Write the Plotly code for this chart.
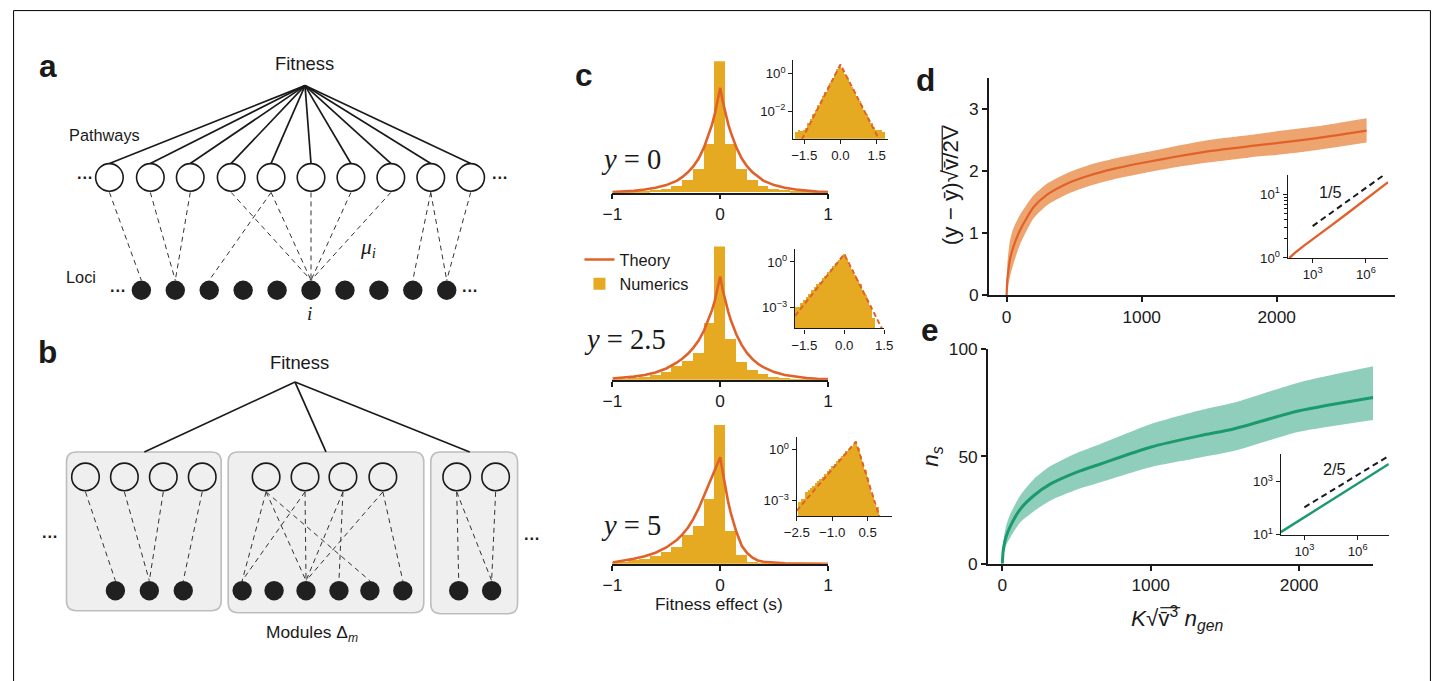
import plotly.graph_objects as go

# The page is shown with the browser's default 8px body margin and the photographed page
# is scaled slightly, so window positions (given below in reference pixels) are mapped
# back to figure positions with the measured offset/scale (AX/AY, KX/KY) and OFF.
OFF = 8
W, H = 1440, 681
AX, KX = 2.5, 0.9867
AY, KY = 2.5, 0.9723
FS = 1.02  # size compensation for that scaling
FONT = "Liberation Sans, Arial, sans-serif"
SERIF = "Liberation Serif, DejaVu Serif, serif"
INK = "#1a1a1a"
GOLD = "#e5aa22"
ORANGE = "#e0612a"
BAND_O = "#eda46e"
GREEN = "#1b9a6c"
BAND_G = "#8fcebb"

# ---------------- panel a : network (schematic positions) ----------------
a_pathway_x = [107, 148, 188, 229, 269, 309, 349, 389, 429, 469]
a_pathway_y = 178
a_loci_x = [139, 173, 207, 241, 275, 309, 343, 377, 411, 445]
a_loci_y = 291
a_fitness = (303, 86)
a_edges = [(0, 0), (1, 1), (2, 1), (3, 5), (4, 2), (4, 5), (5, 5), (6, 5), (7, 5), (8, 8), (8, 9), (9, 9)]

# ---------------- panel b : modular network ----------------
b_boxes = [(64, 453, 219, 612), (226, 453, 422, 614), (429, 453, 516, 615)]
b_open_x = [83, 122, 161, 200, 264, 303, 341, 381, 455, 494]
b_open_y = 478
b_fill_x = [113, 147, 181, 240, 272, 304, 337, 368, 401, 457, 490]
b_fill_y = 592
b_fitness = (293, 383)
b_module_top_x = [142, 324, 468]
b_edges = [(0, 0), (1, 1), (2, 1), (3, 2),
           (4, 3), (4, 5), (4, 7), (5, 3), (5, 5), (6, 5), (6, 6), (7, 5), (7, 8),
           (8, 9), (8, 10), (9, 10)]

# ---------------- panel c : histograms ----------------
hist_s = [-1.0, -0.9, -0.8, -0.7, -0.6, -0.5, -0.4, -0.3, -0.2, -0.1, 0.0,
          0.1, 0.2, 0.3, 0.4, 0.5, 0.6, 0.7, 0.8, 0.9, 1.0]
hist_y0 = [0.03, 0.04, 0.06, 0.1, 0.17, 0.28, 0.5, 0.93, 1.77, 3.72, 12,
           3.72, 1.77, 0.93, 0.5, 0.28, 0.17, 0.1, 0.06, 0.04, 0.03]
hist_y25 = [0.06, 0.1, 0.15, 0.25, 0.4, 0.6, 1.05, 1.42, 2.05, 4.3, 12,
            3.1, 1.35, 0.73, 0.43, 0.25, 0.15, 0.1, 0.06, 0.04, 0.03]
hist_y5 = [0.1, 0.15, 0.25, 0.37, 0.58, 0.87, 1.25, 2.12, 2.86, 4.86, 12,
           2.49, 0.67, 0.13, 0.05, 0.03, 0.02, 0.01, 0.01, 0.01, 0.0]

theory_s = [-1.0, -0.9, -0.8, -0.7, -0.6, -0.5, -0.4, -0.35, -0.3, -0.25, -0.2, -0.15, -0.1, -0.075,
            -0.05, -0.025, 0.0, 0.025, 0.05, 0.075, 0.1, 0.15, 0.2, 0.25, 0.3, 0.35, 0.4, 0.5,
            0.6, 0.7, 0.8, 0.9, 1.0]
theory_y0 = [0.05, 0.08, 0.14, 0.24, 0.38, 0.58, 0.92, 1.2, 1.55, 2.0, 2.6, 3.45, 4.55, 5.2, 6.0, 6.9,
             7.98, 6.9, 6.0, 5.2, 4.55, 3.45, 2.6, 2.0, 1.55, 1.2, 0.92, 0.58, 0.38, 0.24, 0.14, 0.08, 0.05]
theory_y25 = [0.1, 0.15, 0.24, 0.36, 0.55, 0.85, 1.3, 1.6, 1.95, 2.4, 2.95, 3.7, 4.65, 5.25, 5.95, 6.75,
              7.75, 6.7, 5.85, 5.1, 4.45, 3.4, 2.6, 2.0, 1.55, 1.2, 0.95, 0.58, 0.36, 0.22, 0.13, 0.08, 0.05]
theory_y5 = [0.1, 0.22, 0.37, 0.56, 0.83, 1.22, 1.8, 2.2, 2.7, 3.35, 4.15, 5.1, 6.05, 6.5, 7.0, 7.5,
             7.98, 6.8, 5.6, 4.6, 3.75, 2.4, 1.35, 0.8, 0.45, 0.25, 0.15, 0.07, 0.04, 0.02, 0.01, 0.01, 0.0]

# insets (log10 of density)
ins1_s = [round(-1.8 + 0.1 * k, 1) for k in range(37)]
ins1_log = [-3.1, -2.95, -3.05, -2.95, -2.85, -2.6, -2.4, -2.15, -1.9, -1.66, -1.42, -1.18, -0.94, -0.7,
            -0.46, -0.22, 0.02, 0.26, 0.5, 0.26, 0.02, -0.22, -0.46, -0.7, -0.94, -1.18, -1.42, -1.66,
            -1.9, -2.14, -2.38, -2.62, -2.8, -3.0, -2.95, -2.95, -3.1]
ins1_th_s = [-1.6, 0.0, 1.6]
ins1_th_log = [-3.5, 0.48, -3.5]

ins2_s = [round(-1.8 + 0.1 * k, 1) for k in range(30)]
ins2_log = [-3.0, -3.0, -2.7, -2.5, -2.3, -2.1, -1.9, -1.7, -1.5, -1.35, -1.1, -0.95, -0.7, -0.5, -0.3,
            -0.1, 0.1, 0.3, 0.5, 0.15, -0.2, -0.55, -0.85, -1.2, -1.5, -1.85, -2.2, -2.55, -2.9, -3.7]
ins2_th_s = [-1.85, 0.0, 1.5]
ins2_th_log = [-3.55, 0.51, -4.68]

ins3_s = [round(-2.4 + 0.1 * k, 1) for k in range(34)]
ins3_log = [-3.1, -2.9, -2.9, -2.5, -2.4, -2.3, -2.15, -2.0, -1.85, -1.75, -1.6, -1.45, -1.3, -1.15, -1.0,
            -0.85, -0.7, -0.55, -0.4, -0.25, -0.1, 0.0, 0.15, 0.3, 0.5, 0.1, -0.4, -0.8, -1.2, -1.7, -2.2,
            -2.7, -3.3, -3.4]
ins3_th_s = [-2.5, 0.0, 1.0]
ins3_th_log = [-3.6, 0.47, -3.98]

# ---------------- panel d ----------------
d_x = [0, 5, 10, 25, 50, 100, 200, 300, 450, 600, 800, 1000, 1250, 1500, 1800, 2000, 2300, 2666]
d_mid = [0, 0.25, 0.35, 0.58, 0.78, 1.05, 1.42, 1.62, 1.8, 1.92, 2.04, 2.13, 2.23, 2.32, 2.40, 2.45, 2.53, 2.65]
d_up = [0, 0.5, 0.62, 0.88, 1.08, 1.3, 1.61, 1.8, 1.97, 2.09, 2.2, 2.29, 2.4, 2.5, 2.58, 2.64, 2.72, 2.85]
d_lo = [0, 0.05, 0.12, 0.3, 0.5, 0.82, 1.24, 1.45, 1.63, 1.75, 1.87, 1.96, 2.06, 2.14, 2.22, 2.26, 2.34, 2.46]
din_x_log = [1.69, 2.0, 2.5, 3.0, 4.0, 5.0, 6.0, 7.25]
din_y_log = [0.0, 0.08, 0.19, 0.29, 0.5, 0.71, 0.92, 1.19]
din_ref_x_log = [3.0, 7.0]
din_ref_y_log = [0.5, 1.3]

# ---------------- panel e ----------------
e_x = [0, 5, 10, 25, 56, 123, 213, 325, 498, 661, 997, 1334, 1558, 2000, 2499]
e_mid = [0, 5.5, 8, 12.5, 17.8, 25.6, 31.8, 37.2, 42.6, 46.5, 54.3, 59.7, 62.8, 71.3, 77.5]
e_up = [0, 9, 12, 17.5, 23.5, 32, 39.5, 45.5, 51.5, 55.8, 65, 71.5, 75, 84.5, 92]
e_lo = [0, 2.5, 4.5, 8.5, 12.5, 19.5, 24.5, 29.5, 34.5, 38, 45, 49.5, 52.5, 61.5, 67]
ein_x_log = [1.67, 3.0, 6.0, 7.76]
ein_y_log = [1.09, 1.65, 2.92, 3.67]
ein_ref_x_log = [3.0, 7.72]
ein_ref_y_log = [2.03, 3.96]


def px(x):
    return ((x - AX) / KX - OFF) / W


def py(y):
    return 1 - ((y - AY) / KY - OFF) / H


def dom_x(a, b):
    return [px(a), px(b)]


def dom_y(bottom, top):
    return [py(bottom), py(top)]


def pw(v):
    return [10 ** t for t in v]


def fs(v):
    return round(v * FS, 2)


fig = go.Figure()

# ---- panel a traces (axis x/y in reference-pixel-like units) ----
sx, sy = [], []
for xx in a_pathway_x:
    sx += [a_fitness[0], xx, None]
    sy += [a_fitness[1], a_pathway_y - 14, None]
fig.add_trace(go.Scatter(x=sx, y=sy, mode="lines", line=dict(color=INK, width=1.7),
                         hoverinfo="skip", showlegend=False))
dx_, dy_ = [], []
for p, l in a_edges:
    dx_ += [a_pathway_x[p], a_loci_x[l], None]
    dy_ += [a_pathway_y + 15, a_loci_y - 10, None]
fig.add_trace(go.Scatter(x=dx_, y=dy_, mode="lines", line=dict(color="#333", width=1, dash="5px,4px"),
                         hoverinfo="skip", showlegend=False))
fig.add_trace(go.Scatter(x=a_pathway_x, y=[a_pathway_y] * len(a_pathway_x), mode="markers",
                         marker=dict(symbol="circle", size=fs(27), color="white", line=dict(color=INK, width=1.6)),
                         hoverinfo="skip", showlegend=False))
fig.add_trace(go.Scatter(x=a_loci_x, y=[a_loci_y] * len(a_loci_x), mode="markers",
                         marker=dict(symbol="circle", size=fs(19), color="#202020", line=dict(width=0)),
                         hoverinfo="skip", showlegend=False))

# ---- panel b traces ----
sx, sy = [], []
for xx in b_module_top_x:
    sx += [b_fitness[0], xx, None]
    sy += [b_fitness[1], b_boxes[0][1], None]
fig.add_trace(go.Scatter(x=sx, y=sy, mode="lines", line=dict(color=INK, width=1.7),
                         hoverinfo="skip", showlegend=False))
dx_, dy_ = [], []
for o, f in b_edges:
    dx_ += [b_open_x[o], b_fill_x[f], None]
    dy_ += [b_open_y + 15, b_fill_y - 10, None]
fig.add_trace(go.Scatter(x=dx_, y=dy_, mode="lines", line=dict(color="#333", width=1, dash="5px,4px"),
                         hoverinfo="skip", showlegend=False))
fig.add_trace(go.Scatter(x=b_open_x, y=[b_open_y] * len(b_open_x), mode="markers",
                         marker=dict(symbol="circle", size=fs(27), color="#efefef", line=dict(color=INK, width=1.6)),
                         hoverinfo="skip", showlegend=False))
fig.add_trace(go.Scatter(x=b_fill_x, y=[b_fill_y] * len(b_fill_x), mode="markers",
                         marker=dict(symbol="circle", size=fs(19), color="#202020", line=dict(width=0)),
                         hoverinfo="skip", showlegend=False))

# ---- panel c main histograms ----
hist_sets = [(hist_y0, theory_y0, "x2", "y2"), (hist_y25, theory_y25, "x3", "y3"), (hist_y5, theory_y5, "x4", "y4")]
for i, (hy, ty, xa, ya) in enumerate(hist_sets):
    fig.add_trace(go.Bar(x=hist_s, y=hy, width=0.1, marker=dict(color=GOLD, line=dict(width=0)),
                         xaxis=xa, yaxis=ya, name="Numerics", showlegend=(i == 0), legendrank=2,
                         hoverinfo="skip"))
    fig.add_trace(go.Scatter(x=theory_s, y=ty, mode="lines", line=dict(color=ORANGE, width=2.6),
                             xaxis=xa, yaxis=ya, name="Theory", showlegend=(i == 0), legendrank=1,
                             hoverinfo="skip"))

# ---- panel c insets ----
ins_sets = [(ins1_s, ins1_log, ins1_th_s, ins1_th_log, "x5", "y5"),
            (ins2_s, ins2_log, ins2_th_s, ins2_th_log, "x6", "y6"),
            (ins3_s, ins3_log, ins3_th_s, ins3_th_log, "x7", "y7")]
for s_, l_, ts, tl, xa, ya in ins_sets:
    fig.add_trace(go.Bar(x=s_, y=pw(l_), width=0.1, marker=dict(color=GOLD, line=dict(width=0)),
                         xaxis=xa, yaxis=ya, showlegend=False, hoverinfo="skip"))
    fig.add_trace(go.Scatter(x=ts, y=pw(tl), mode="lines", line=dict(color=ORANGE, width=2, dash="5px,3px"),
                             xaxis=xa, yaxis=ya, showlegend=False, hoverinfo="skip"))

# ---- panel d ----
fig.add_trace(go.Scatter(x=d_x, y=d_lo, mode="lines", line=dict(width=0, shape="spline", smoothing=0.6),
                         xaxis="x8", yaxis="y8", showlegend=False, hoverinfo="skip"))
fig.add_trace(go.Scatter(x=d_x, y=d_up, mode="lines", fill="tonexty", fillcolor=BAND_O,
                         line=dict(width=0, shape="spline", smoothing=0.6),
                         xaxis="x8", yaxis="y8", showlegend=False, hoverinfo="skip"))
fig.add_trace(go.Scatter(x=d_x, y=d_mid, mode="lines",
                         line=dict(color=ORANGE, width=2.2, shape="spline", smoothing=0.6),
                         xaxis="x8", yaxis="y8", showlegend=False, hoverinfo="skip"))
fig.add_trace(go.Scatter(x=pw(din_ref_x_log), y=pw(din_ref_y_log), mode="lines",
                         line=dict(color=INK, width=2, dash="6px,4px"),
                         xaxis="x9", yaxis="y9", showlegend=False, hoverinfo="skip"))
fig.add_trace(go.Scatter(x=pw(din_x_log), y=pw(din_y_log), mode="lines", line=dict(color=ORANGE, width=2.4),
                         xaxis="x9", yaxis="y9", showlegend=False, hoverinfo="skip"))

# ---- panel e ----
fig.add_trace(go.Scatter(x=e_x, y=e_lo, mode="lines", line=dict(width=0, shape="spline", smoothing=0.6),
                         xaxis="x10", yaxis="y10", showlegend=False, hoverinfo="skip"))
fig.add_trace(go.Scatter(x=e_x, y=e_up, mode="lines", fill="tonexty", fillcolor=BAND_G,
                         line=dict(width=0, shape="spline", smoothing=0.6),
                         xaxis="x10", yaxis="y10", showlegend=False, hoverinfo="skip"))
fig.add_trace(go.Scatter(x=e_x, y=e_mid, mode="lines",
                         line=dict(color=GREEN, width=3, shape="spline", smoothing=0.6),
                         xaxis="x10", yaxis="y10", showlegend=False, hoverinfo="skip"))
fig.add_trace(go.Scatter(x=pw(ein_ref_x_log), y=pw(ein_ref_y_log), mode="lines",
                         line=dict(color=INK, width=2, dash="6px,4px"),
                         xaxis="x11", yaxis="y11", showlegend=False, hoverinfo="skip"))
fig.add_trace(go.Scatter(x=pw(ein_x_log), y=pw(ein_y_log), mode="lines", line=dict(color=GREEN, width=2.4),
                         xaxis="x11", yaxis="y11", showlegend=False, hoverinfo="skip"))


def axis(**kw):
    d = dict(showgrid=False, zeroline=False, showline=True, linecolor=INK, linewidth=1.5,
             ticks="outside", ticklen=5, tickwidth=1.5, tickcolor=INK,
             tickfont=dict(family=FONT, size=fs(17), color=INK), fixedrange=True)
    d.update(kw)
    return d


def inset_axis(**kw):
    d = axis(ticklen=4, tickwidth=1.2, linewidth=1.3, tickfont=dict(family=FONT, size=fs(13), color=INK))
    d.update(kw)
    return d


hidden = dict(visible=False, fixedrange=True)
layout = dict(
    width=W, height=H, autosize=False,
    margin=dict(l=0, r=0, t=0, b=0, pad=0),
    paper_bgcolor="white", plot_bgcolor="rgba(0,0,0,0)",
    bargap=0, barmode="overlay",
    font=dict(family=FONT, color=INK),
    xaxis=dict(domain=[px(12), px(576)], range=[12, 576], anchor="y", **hidden),
    yaxis=dict(domain=[py(660), py(12)], range=[660, 12], anchor="x", **hidden),
)
# panel c main axes
c_main = [("2", 193.3, 61.7, 10), ("3", 380.7, 247.3, 10), ("4", 565, 426, 10.4)]
for k, bot, top, ymax in c_main:
    layout["xaxis" + k] = axis(domain=dom_x(611, 827), range=[-1, 1], anchor="y" + k,
                               tickvals=[-1, 0, 1], ticktext=["\u22121", "0", "1"])
    layout["yaxis" + k] = dict(domain=dom_y(bot, top), range=[0, ymax], anchor="x" + k, **hidden)
# panel c insets
c_ins = [("5", (792.3, 886.7), [-1.95, 1.95], (139.3, 60), [-3.46, 0.74], [1, 1e-2],
          ["10<sup>0</sup>", "10<sup>\u22122</sup>"], [-1.5, 0, 1.5], ["\u22121.5", "0.0", "1.5"]),
         ("6", (794, 883.3), [-1.85, 1.5], (329.3, 250), [-4.38, 0.83], [1, 1e-3],
          ["10<sup>0</sup>", "10<sup>\u22123</sup>"], [-1.5, 0, 1.5], ["\u22121.5", "0.0", "1.5"]),
         ("7", (795.7, 890.7), [-2.5, 1.51], (517.3, 438.3), [-3.92, 0.73], [1, 1e-3],
          ["10<sup>0</sup>", "10<sup>\u22123</sup>"], [-2.5, -1.0, 0.5], ["\u22122.5", "\u22121.0", "0.5"])]
for k, xd, xr, yd, yr, ytv, ytt, xtv, xtt in c_ins:
    layout["xaxis" + k] = inset_axis(domain=dom_x(*xd), range=xr, anchor="y" + k, tickvals=xtv, ticktext=xtt)
    layout["yaxis" + k] = inset_axis(domain=dom_y(*yd), type="log", range=yr, anchor="x" + k,
                                     tickvals=ytv, ticktext=ytt)
# panel d
layout["xaxis8"] = axis(domain=dom_x(988.3, 1395), range=[-131, 2875], anchor="y8", tickvals=[0, 1000, 2000])
layout["yaxis8"] = axis(domain=dom_y(296, 78.3), range=[0, 3.5], anchor="x8", tickvals=[0, 1, 2, 3])
layout["xaxis9"] = inset_axis(domain=dom_x(1287.7, 1388.3), type="log", range=[1.6, 7.25], anchor="y9",
                              tickvals=[1e3, 1e6], ticktext=["10<sup>3</sup>", "10<sup>6</sup>"])
layout["yaxis9"] = inset_axis(domain=dom_y(258.7, 175.7), type="log", range=[0, 1.3], anchor="x9",
                              tickvals=[1, 10], ticktext=["10<sup>0</sup>", "10<sup>1</sup>"],
                              minor=dict(ticks="outside", ticklen=2.5, tickwidth=1, tickcolor=INK,
                                         tickvals=[2, 3, 4, 5, 6, 7, 8, 9, 20]))
# panel e
layout["xaxis10"] = axis(domain=dom_x(987.3, 1373.3), range=[-96.8, 2499], anchor="y10", tickvals=[0, 1000, 2000])
layout["yaxis10"] = axis(domain=dom_y(565, 350), range=[0, 100], anchor="x10", tickvals=[0, 50, 100])
layout["xaxis11"] = inset_axis(domain=dom_x(1280.7, 1389), type="log", range=[1.67, 7.76], anchor="y11",
                               tickvals=[1e3, 1e6], ticktext=["10<sup>3</sup>", "10<sup>6</sup>"])
layout["yaxis11"] = inset_axis(domain=dom_y(535.7, 455), type="log", range=[1, 4.05], anchor="x11",
                               tickvals=[10, 1000], ticktext=["10<sup>1</sup>", "10<sup>3</sup>"])

layout["legend"] = dict(x=px(578), y=py(243), xanchor="left", yanchor="top",
                        font=dict(family=FONT, size=fs(16), color=INK), bgcolor="rgba(0,0,0,0)",
                        itemwidth=30, tracegroupgap=0, traceorder="normal")
fig.update_layout(**layout)


def txt(x, y, text, size=16, family=FONT, angle=0, xanchor="center"):
    return dict(x=px(x), y=py(y), xref="paper", yref="paper", text=text, showarrow=False,
                font=dict(family=family, size=fs(size), color=INK), textangle=angle,
                xanchor=xanchor, yanchor="middle")


ann = [
    txt(45, 66, "<b>a</b>", 31), txt(45, 353, "<b>b</b>", 31), txt(583, 75, "<b>c</b>", 31),
    txt(925, 80, "<b>d</b>", 31), txt(929, 331, "<b>e</b>", 31),
    txt(302, 64, "Fitness", 18), txt(102, 135, "Pathways", 16), txt(79, 278, "Loci", 16),
    txt(366, 249, "<i>\u03bc<sub>i</sub></i>", 21, SERIF), txt(307, 314, "<i>i</i>", 19, SERIF),
    txt(83, 178, "<b>\u00b7\u00b7\u00b7</b>", 16), txt(498, 178, "<b>\u00b7\u00b7\u00b7</b>", 16),
    txt(116, 291, "<b>\u00b7\u00b7\u00b7</b>", 16), txt(468, 291, "<b>\u00b7\u00b7\u00b7</b>", 16),
    txt(297, 363, "Fitness", 18), txt(47, 537, "<b>\u00b7\u00b7\u00b7</b>", 16),
    txt(530, 539, "<b>\u00b7\u00b7\u00b7</b>", 16),
    txt(310, 635, "Modules \u0394<sub><i>m</i></sub>", 17),
    txt(630, 160, "<i>y</i> = 0", 28, SERIF), txt(624, 340, "<i>y</i> = 2.5", 28, SERIF),
    txt(630, 527, "<i>y</i> = 5", 28, SERIF),
    txt(718, 605, "Fitness effect (s)", 17),
    txt(1331, 193, "1/5", 16), txt(1335, 470, "2/5", 16),
    txt(950, 186, "(y \u2212 \u0233)\u221av\u0304/2V", 22, angle=-90),
    txt(931, 458, "<i>n<sub>s</sub></i>", 22, angle=-90),
    txt(1177, 620, "<i>K</i>\u221av\u0304<sup>3</sup> <i>n<sub>gen</sub></i>", 22),
]
fig.update_layout(annotations=ann)


def rrect(x0, y0, x1, y1, r):
    return (f"M{x0 + r},{y0} L{x1 - r},{y0} Q{x1},{y0} {x1},{y0 + r} L{x1},{y1 - r} Q{x1},{y1} {x1 - r},{y1} "
            f"L{x0 + r},{y1} Q{x0},{y1} {x0},{y1 - r} L{x0},{y0 + r} Q{x0},{y0} {x0 + r},{y0} Z")


shapes = []
for (x0, y0, x1, y1) in b_boxes:
    shapes.append(dict(type="path", path=rrect(x0, y0, x1, y1, 10), xref="x", yref="y",
                       fillcolor="#efefef", line=dict(color="#bdbdbd", width=1.6), layer="below"))
# outer frame (left/top/right edges, kept inside the figure)
fx0, fx1, fy1 = 0.6 / W, 1 - 0.6 / W, 1 - 0.6 / H
shapes.append(dict(type="path", xref="paper", yref="paper",
                   path=f"M{fx0},-0.1 L{fx0},{fy1} L{fx1},{fy1} L{fx1},-0.1",
                   line=dict(color="black", width=1)))
# radical vinculums of the axis-label square roots
shapes.append(dict(type="line", xref="paper", yref="paper", x0=px(941.5), x1=px(941.5), y0=py(172), y1=py(126),
                   line=dict(color=INK, width=1.2)))
shapes.append(dict(type="line", xref="paper", yref="paper", x0=px(1160), x1=px(1180), y0=py(609), y1=py(609),
                   line=dict(color=INK, width=1.2)))
fig.update_layout(shapes=shapes)

fig.write_html("out.html", config={"displayModeBar": False})
